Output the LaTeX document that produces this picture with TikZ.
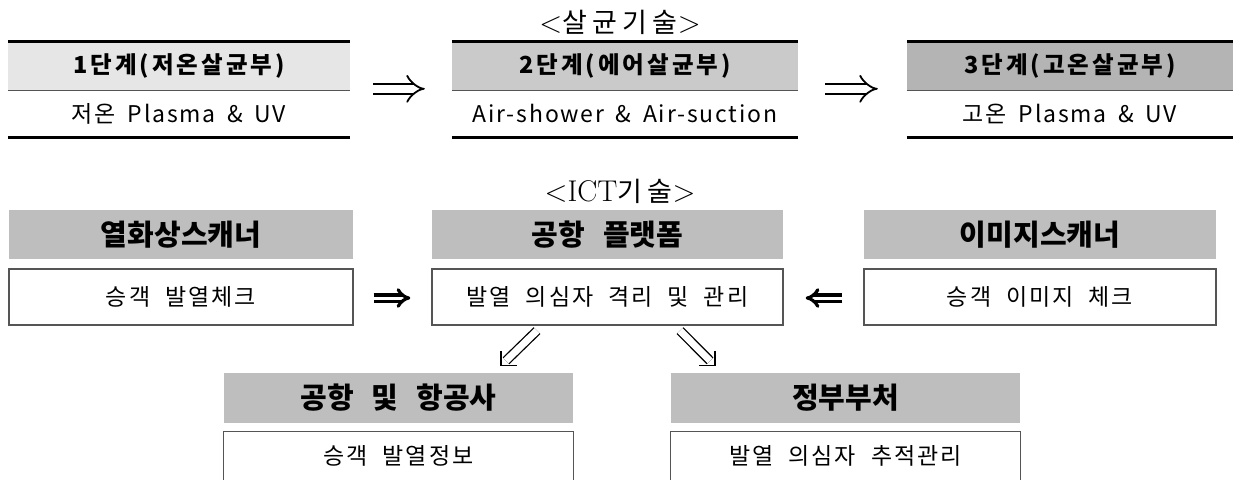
\documentclass[tikz,border=0pt]{standalone}
\usepackage{fontspec}
\usetikzlibrary{arrows.meta,calc}
\newfontfamily\kr{Noto Sans CJK KR}
\definecolor{gA}{HTML}{E6E6E6}
\definecolor{gB}{HTML}{CACACA}
\definecolor{gC}{HTML}{B4B4B4}
\definecolor{gD}{HTML}{BEBEBE}
\definecolor{ln}{HTML}{555555}
\newcommand\hdfont{\kr\bfseries\fontsize{23.5}{23.5}\selectfont\addfontfeatures{LetterSpace=13}}
\newcommand\bdfont{\kr\fontsize{23}{23}\selectfont\addfontfeatures{LetterSpace=8}\spaceskip=0.5em\relax}
\newcommand\rhfont{\kr\bfseries\fontsize{29}{29}\selectfont\spaceskip=0.62em\relax}
\newcommand\rbfont{\kr\fontsize{23}{23}\selectfont\addfontfeatures{LetterSpace=9}\spaceskip=0.65em\relax}
\newcommand\ttlfont{\fontsize{30}{30}\selectfont}
\newcommand\ttlkr{\kr\fontsize{27}{27}\selectfont\addfontfeatures{LetterSpace=20}}
\begin{document}
\begin{tikzpicture}[x=1pt,y=-1pt,
  hd/.style={inner sep=0pt, minimum height=48pt, font=\hdfont},
  bd/.style={inner sep=0pt, minimum height=47pt, font=\bdfont},
  rh/.style={inner sep=0pt, fill=gD, minimum height=49pt, font=\rhfont},
  rb/.style={inner sep=0pt, draw=ln, line width=1.3pt, minimum height=56pt, font=\rbfont},
  ob/.style={inner sep=0pt, minimum height=47pt, font=\rbfont},
  ttl/.style={inner sep=0pt, font=\ttlfont},
  thk/.style={line width=3pt},
  thn/.style={line width=1.3pt, draw=ln},
  dbl/.style={double, double distance=8pt, line width=1.8pt, -{Implies}},
  bdbl/.style={double, double distance=3pt, line width=3.2pt, -{Implies}},
  ddbl/.style={double, double distance=7pt, line width=1.3pt},
  hdl/.style={line width=1.3pt}]
\useasboundingbox (0,0) rectangle (1233,479);

% titles
\node[ttl] (tt1) at (620,22) {<{\ttlkr 살균기술}>};
\node[ttl] (tt2) at (620,191) {<ICT{\ttlkr 기술}>};

% top row
\node[hd, fill=gA, minimum width=342pt] (t1h) at (179,66) {1단계(저온살균부)};
\node[bd, minimum width=342pt] (t1b) at (179,113.5) {저온 Plasma \& UV};
\node[hd, fill=gB, minimum width=346pt] (t2h) at (625,66) {2단계(에어살균부)};
\node[bd, minimum width=346pt] (t2b) at (625,113.5) {Air-shower \& Air-suction};
\node[hd, fill=gC, minimum width=326pt] (t3h) at (1070,66) {3단계(고온살균부)};
\node[bd, minimum width=326pt] (t3b) at (1070,113.5) {고온 Plasma \& UV};
\foreach \n in {t1,t2,t3}{
  \draw[thk] (\n h.north west) -- (\n h.north east);
  \draw[thn] (\n h.south west) -- (\n h.south east);
  \draw[thk] (\n b.south west) -- (\n b.south east);
}
\draw[dbl] ([xshift=23pt,yshift=1pt]t1b.north east) -- ([xshift=-27pt,yshift=1pt]t2b.north west);
\draw[dbl] ([xshift=27pt,yshift=1pt]t2b.north east) -- ([xshift=-29pt,yshift=1pt]t3b.north west);

% row 2
\node[rh, minimum width=344pt] (r1h) at (181,234.5) {열화상스캐너};
\node[rb, minimum width=344pt] (r1b) at (181,297) {승객 발열체크};
\node[rh, minimum width=351pt] (r2h) at (607.5,234.5) {공항 플랫폼};
\node[rb, minimum width=351pt] (r2b) at (607.5,297) {발열 의심자 격리 및 관리};
\node[rh, minimum width=352pt] (r3h) at (1040,234.5) {이미지스캐너};
\node[rb, minimum width=352pt] (r3b) at (1040,297) {승객 이미지 체크};
\draw[bdbl] ([xshift=20pt,yshift=-1pt]r1b.east) -- ([xshift=-21pt,yshift=-1pt]r2b.west);
\draw[bdbl] ([xshift=-21pt,yshift=-1pt]r3b.west) -- ([xshift=22pt,yshift=-1pt]r2b.east);

% row 3
\node[rh, minimum width=349pt, minimum height=50pt] (b1h) at (398.5,398) {공항 및 항공사};
\node[ob, minimum width=349pt] (b1b) at (398.5,455.5) {승객 발열정보};
\node[rh, minimum width=349pt, minimum height=50pt] (b2h) at (845.5,398) {정부부처};
\node[ob, minimum width=349pt] (b2b) at (845.5,455.5) {발열 의심자 추적관리};
\foreach \n in {b1b,b2b}{
  \draw[thn] ([yshift=-3pt]\n.south west) -- (\n.north west) -- (\n.north east) -- ([yshift=-3pt]\n.south east);
}

% diagonal arrows
\coordinate (sL) at ([xshift=-70.5pt,yshift=-5pt]r2b.south);
\coordinate (tL) at ([xshift=102.5pt,yshift=7pt]b1h.north);
\coordinate (sR) at ([xshift=72.5pt,yshift=-5pt]r2b.south);
\coordinate (tR) at ([xshift=-130.5pt,yshift=7pt]b2h.north);
\draw[ddbl] (sL) -- ($(tL)+(5,-5)$);
\draw[hdl] (tL) ++(0,-15) -- (tL) -- ++(16,0);
\draw[ddbl] (sR) -- ($(tR)+(-5,-5)$);
\draw[hdl] (tR) ++(0,-15) -- (tR) -- ++(-16,0);
\end{tikzpicture}
\end{document}
